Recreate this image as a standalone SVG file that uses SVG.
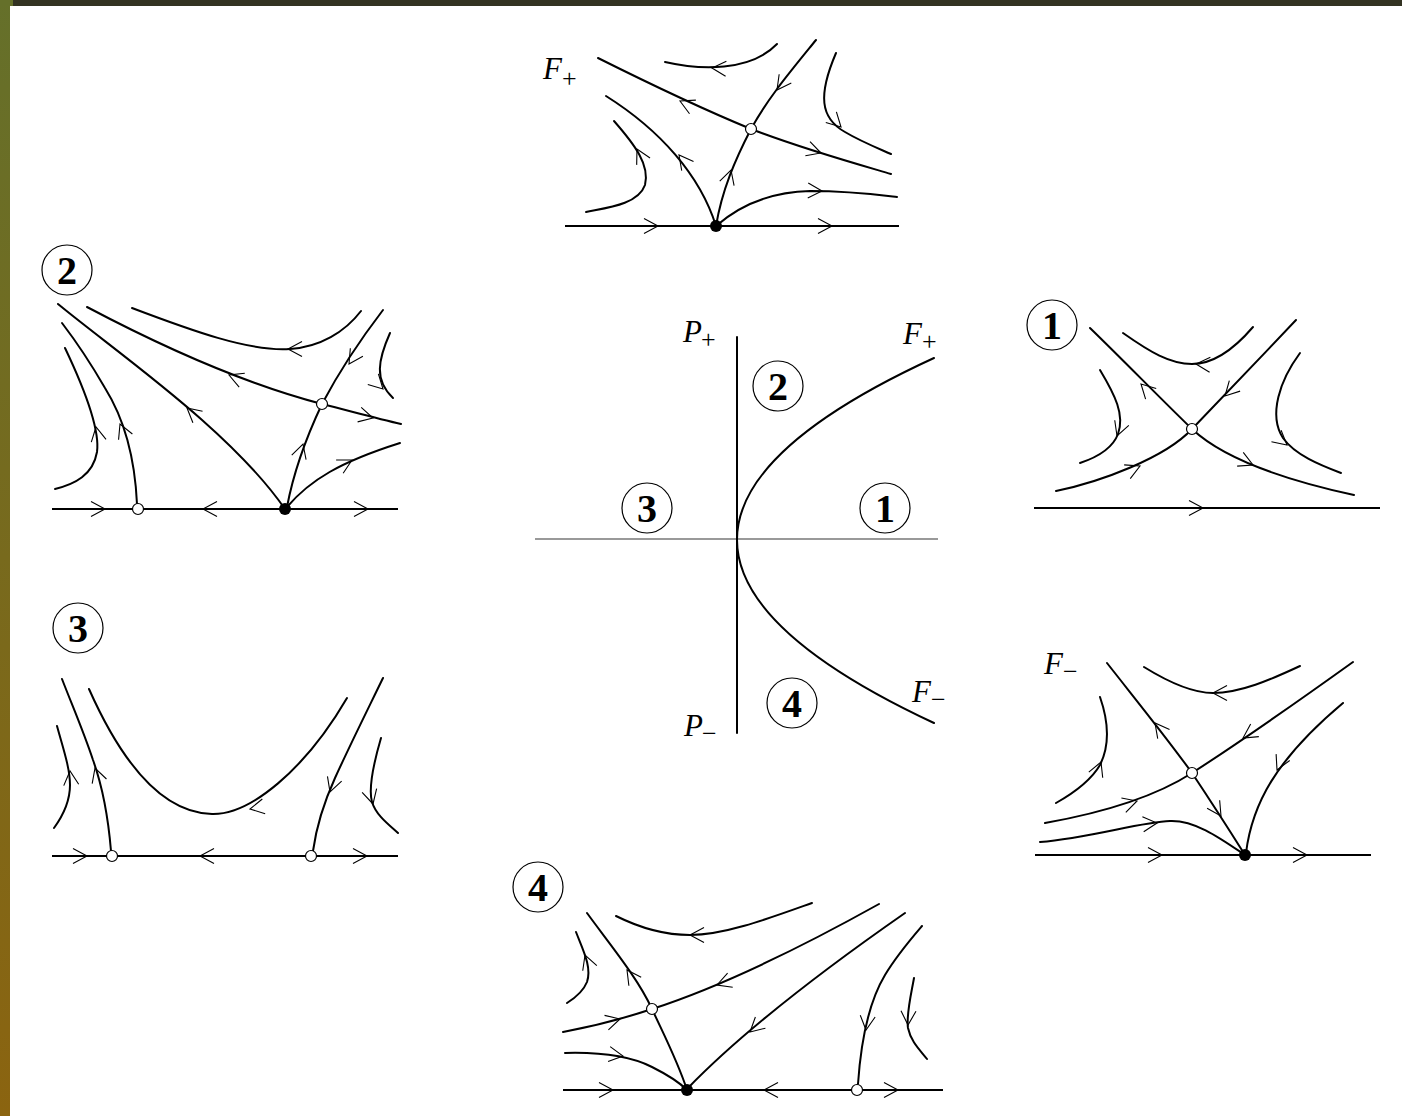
<svg xmlns="http://www.w3.org/2000/svg" xmlns:xlink="http://www.w3.org/1999/xlink" width="1402" height="1116" viewBox="0 0 1402 1116">
<style>
.c{fill:none;stroke:#000;stroke-width:2;stroke-linecap:round}
.ax{fill:none;stroke:#000;stroke-width:1.8}
.a{fill:none;stroke:#000;stroke-width:1.1}
.o{fill:#fff;stroke:#000;stroke-width:1.2}
.d{fill:#000}
.lc{fill:none;stroke:#000;stroke-width:1.2}
.n{font-family:"Liberation Serif",serif;font-weight:bold;font-size:40px;text-anchor:middle}
.m{font-family:"Liberation Serif",serif;font-style:italic;font-size:31px}
.s{font-family:"Liberation Serif",serif;font-size:26px;font-style:normal}
</style>
<defs>
<linearGradient id="lg" x1="0" y1="0" x2="0" y2="1">
<stop offset="0" stop-color="#65702a"/>
<stop offset="1" stop-color="#8b6410"/>
</linearGradient>
<path id="ar" d="M-14,-7.5 L0,0 L-14,7.5"/>
</defs>
<rect width="1402" height="1116" fill="#fff"/>
<rect x="0" y="0" width="1402" height="6" fill="#333322"/>
<rect x="0" y="0" width="10" height="1116" fill="url(#lg)"/>
<rect x="0" y="0" width="13" height="6" fill="#65702a"/>

<!-- Top panel F+ -->
<g id="panel-fplus">
<text class="m" x="543" y="79">F<tspan class="s" dx="0" dy="8">+</tspan></text>
<g class="connectors">
<path class="ax" d="M565,226 H899"/>
<path class="c" d="M598,58 C650,84 700,108 751,129 C800,148 850,162 891,174"/>
<path class="c" d="M606,96 C660,130 700,175 716,226"/>
<path class="c" d="M716,226 C722,190 735,160 751,129 C768,98 790,72 816,40"/>
<path class="c" d="M665,62 C700,70 750,72 777,44"/>
<path class="c" d="M836,53 C818,95 820,118 845,132 C860,141 875,147 891,154"/>
<path class="c" d="M614,121 C635,145 650,165 645,185 C638,205 605,208 586,212"/>
<path class="c" d="M716,226 C740,205 770,192 810,191 C850,191 880,195 897,197"/>
</g>
<g class="a">
<use xlink:href="#ar" transform="translate(658,226)"/>
<use xlink:href="#ar" transform="translate(832,226)"/>
<use xlink:href="#ar" transform="translate(680,101) rotate(205)"/>
<use xlink:href="#ar" transform="translate(821,153) rotate(18)"/>
<use xlink:href="#ar" transform="translate(679,155) rotate(232)"/>
<use xlink:href="#ar" transform="translate(731,170) rotate(-73)"/>
<use xlink:href="#ar" transform="translate(777,90) rotate(126)"/>
<use xlink:href="#ar" transform="translate(712,68) rotate(183)"/>
<use xlink:href="#ar" transform="translate(841,127) rotate(45)"/>
<use xlink:href="#ar" transform="translate(637,149) rotate(243)"/>
<use xlink:href="#ar" transform="translate(822,191) rotate(2)"/>
</g>
<g id="fp-saddle"><circle class="o" cx="751" cy="129" r="5.5"/></g>
<g id="fp-node"><circle class="d" cx="716" cy="226" r="6"/></g>
</g>

<!-- Panel 2 -->
<g id="panel-2">
<g id="p2-label"><circle class="lc" cx="67" cy="270" r="25"/><text class="n" x="67" y="283.5">2</text></g>
<g class="connectors">
<path class="ax" d="M52,509 H398"/>
<path class="c" d="M58,304 C120,355 230,430 285,509"/>
<path class="c" d="M87,307 C140,335 230,380 322,404 C350,411 375,418 401,424"/>
<path class="c" d="M132,308 C190,330 250,352 290,349 C320,347 345,332 361,311"/>
<path class="c" d="M287,507 C293,475 305,440 322,404 C340,370 360,340 383,310"/>
<path class="c" d="M287,507 C310,480 340,462 400,443"/>
<path class="c" d="M390,333 C378,360 374,380 393,398"/>
<path class="c" d="M137,504 C135,460 125,420 105,388 C90,362 75,340 62,323"/>
<path class="c" d="M65,348 C85,390 100,430 97,452 C93,475 75,484 55,489"/>
</g>
<g class="a">
<use xlink:href="#ar" transform="translate(105,509)"/>
<use xlink:href="#ar" transform="translate(203,509) rotate(180)"/>
<use xlink:href="#ar" transform="translate(368,509)"/>
<use xlink:href="#ar" transform="translate(187,408) rotate(220)"/>
<use xlink:href="#ar" transform="translate(229,375) rotate(202)"/>
<use xlink:href="#ar" transform="translate(373,418) rotate(14)"/>
<use xlink:href="#ar" transform="translate(288,349) rotate(180)"/>
<use xlink:href="#ar" transform="translate(303,444) rotate(-73)"/>
<use xlink:href="#ar" transform="translate(349,364) rotate(123)"/>
<use xlink:href="#ar" transform="translate(352,460) rotate(-28)"/>
<use xlink:href="#ar" transform="translate(383,389) rotate(45)"/>
<use xlink:href="#ar" transform="translate(120,424) rotate(247)"/>
<use xlink:href="#ar" transform="translate(96,427) rotate(259)"/>
</g>
<g id="p2-n1"><circle class="o" cx="138" cy="509" r="5.5"/></g>
<g id="p2-n2"><circle class="d" cx="285" cy="509" r="6"/></g>
<g id="p2-n3"><circle class="o" cx="322" cy="404" r="5.5"/></g>
</g>

<!-- Central panel -->
<g id="panel-center">
<g class="connectors">
<path d="M535,539 H938" fill="none" stroke="#777" stroke-width="1.3"/>
<path class="c" d="M737,337 V733"/>
<path class="c" d="M934,358 Q540,539 934,723"/>
</g>
<text class="m" x="683" y="342">P<tspan class="s" dx="-1" dy="6">+</tspan></text>
<text class="m" x="903" y="344">F<tspan class="s" dx="0" dy="6">+</tspan></text>
<text class="m" x="912" y="702">F<tspan class="s" dx="0" dy="6">−</tspan></text>
<text class="m" x="684" y="736">P<tspan class="s" dx="-1" dy="6">−</tspan></text>
<g id="c-2"><circle class="lc" cx="778" cy="386" r="25"/><text class="n" x="778" y="399.5">2</text></g>
<g id="c-3"><circle class="lc" cx="647" cy="508" r="25"/><text class="n" x="647" y="521.5">3</text></g>
<g id="c-1"><circle class="lc" cx="885" cy="508" r="25"/><text class="n" x="885" y="521.5">1</text></g>
<g id="c-4"><circle class="lc" cx="792" cy="703" r="25"/><text class="n" x="792" y="716.5">4</text></g>
</g>

<!-- Panel 1 -->
<g id="panel-1">
<g id="p1-label"><circle class="lc" cx="1052" cy="325" r="25"/><text class="n" x="1052" y="338.5">1</text></g>
<g class="connectors">
<path class="ax" d="M1034,508 H1380"/>
<path class="c" d="M1090,328 C1125,362 1160,398 1192,429 C1225,460 1285,480 1354,495"/>
<path class="c" d="M1056,491 C1100,482 1165,458 1192,429 C1220,400 1260,358 1296,320"/>
<path class="c" d="M1123,333 C1150,352 1170,364 1192,364 C1215,364 1235,348 1253,327"/>
<path class="c" d="M1100,370 C1115,395 1125,415 1118,434 C1112,450 1095,458 1080,463"/>
<path class="c" d="M1300,353 C1280,380 1268,415 1283,438 C1295,455 1320,465 1341,473"/>
</g>
<g class="a">
<use xlink:href="#ar" transform="translate(1203,508)"/>
<use xlink:href="#ar" transform="translate(1141,384) rotate(225)"/>
<use xlink:href="#ar" transform="translate(1253,465) rotate(24)"/>
<use xlink:href="#ar" transform="translate(1140,466) rotate(-24)"/>
<use xlink:href="#ar" transform="translate(1225,396) rotate(134)"/>
<use xlink:href="#ar" transform="translate(1196,364) rotate(183)"/>
<use xlink:href="#ar" transform="translate(1117,436) rotate(110)"/>
<use xlink:href="#ar" transform="translate(1287,445) rotate(40)"/>
</g>
<g id="p1-saddle"><circle class="o" cx="1192" cy="429" r="5.5"/></g>
</g>

<!-- Panel F- -->
<g id="panel-fminus">
<text class="m" x="1044" y="674">F<tspan class="s" dx="0" dy="6">−</tspan></text>
<g class="connectors">
<path class="ax" d="M1035,855 H1371"/>
<path class="c" d="M1107,663 C1140,705 1170,742 1192,773 C1210,800 1228,828 1245,855"/>
<path class="c" d="M1045,823 C1090,815 1150,800 1192,773 C1240,742 1300,700 1353,662"/>
<path class="c" d="M1144,667 C1165,680 1190,693 1213,693 C1240,693 1270,680 1300,666"/>
<path class="c" d="M1100,697 C1108,720 1110,745 1100,765 C1090,782 1072,794 1056,803"/>
<path class="c" d="M1040,842 C1090,838 1140,822 1170,821 C1195,820 1220,838 1245,855"/>
<path class="c" d="M1246,853 C1252,805 1275,760 1343,703"/>
</g>
<g class="a">
<use xlink:href="#ar" transform="translate(1162,855)"/>
<use xlink:href="#ar" transform="translate(1307,855)"/>
<use xlink:href="#ar" transform="translate(1155,723) rotate(232)"/>
<use xlink:href="#ar" transform="translate(1221,816) rotate(57)"/>
<use xlink:href="#ar" transform="translate(1137,801) rotate(-17)"/>
<use xlink:href="#ar" transform="translate(1243,738) rotate(147)"/>
<use xlink:href="#ar" transform="translate(1213,693) rotate(180)"/>
<use xlink:href="#ar" transform="translate(1101,762) rotate(-68)"/>
<use xlink:href="#ar" transform="translate(1157,823) rotate(-5)"/>
<use xlink:href="#ar" transform="translate(1277,770) rotate(115)"/>
</g>
<g id="fm-saddle"><circle class="o" cx="1192" cy="773" r="5.5"/></g>
<g id="fm-node"><circle class="d" cx="1245" cy="855" r="6"/></g>
</g>

<!-- Panel 3 -->
<g id="panel-3">
<g id="p3-label"><circle class="lc" cx="78" cy="628" r="25"/><text class="n" x="78" y="641.5">3</text></g>
<g class="connectors">
<path class="ax" d="M52,856 H398"/>
<path class="c" d="M111,851 C108,815 102,785 93,760 C83,730 72,705 62,679"/>
<path class="c" d="M57,726 C63,748 70,768 70,785 C70,803 62,817 54,828"/>
<path class="c" d="M89,689 C125,770 165,813 212,814 C250,815 305,770 347,698"/>
<path class="c" d="M313,851 C317,822 325,800 335,778 C350,745 366,713 383,678"/>
<path class="c" d="M381,738 C374,762 368,788 372,802 C376,815 388,824 398,833"/>
</g>
<g class="a">
<use xlink:href="#ar" transform="translate(87,856)"/>
<use xlink:href="#ar" transform="translate(200,856) rotate(180)"/>
<use xlink:href="#ar" transform="translate(367,856)"/>
<use xlink:href="#ar" transform="translate(95,768) rotate(252)"/>
<use xlink:href="#ar" transform="translate(70,771) rotate(265)"/>
<use xlink:href="#ar" transform="translate(250,809) rotate(169)"/>
<use xlink:href="#ar" transform="translate(330,792) rotate(109)"/>
<use xlink:href="#ar" transform="translate(373,804) rotate(75)"/>
</g>
<g id="p3-n1"><circle class="o" cx="112" cy="856" r="5.5"/></g>
<g id="p3-n2"><circle class="o" cx="311" cy="856" r="5.5"/></g>
</g>

<!-- Panel 4 -->
<g id="panel-4">
<g id="p4-label"><circle class="lc" cx="538" cy="887" r="25"/><text class="n" x="538" y="900.5">4</text></g>
<g class="connectors">
<path class="ax" d="M563,1090 H943"/>
<path class="c" d="M587,913 C608,942 638,978 652,1009 C664,1035 678,1062 687,1090"/>
<path class="c" d="M563,1032 C590,1027 622,1019 652,1009 C720,987 800,948 879,904"/>
<path class="c" d="M616,916 C640,928 665,935 690,935 C725,935 770,918 812,903"/>
<path class="c" d="M576,932 C583,950 592,967 587,982 C583,992 575,998 567,1003"/>
<path class="c" d="M565,1053 C600,1052 630,1056 652,1067 C670,1076 680,1083 687,1090"/>
<path class="c" d="M688,1088 C720,1055 780,1000 905,913"/>
<path class="c" d="M858,1084 C861,1040 870,1000 885,975 C897,955 910,940 922,926"/>
<path class="c" d="M914,978 C911,995 906,1015 908,1028 C911,1042 920,1050 927,1059"/>
</g>
<g class="a">
<use xlink:href="#ar" transform="translate(613,1090)"/>
<use xlink:href="#ar" transform="translate(764,1090) rotate(180)"/>
<use xlink:href="#ar" transform="translate(898,1090)"/>
<use xlink:href="#ar" transform="translate(627,970) rotate(235)"/>
<use xlink:href="#ar" transform="translate(620,1019) rotate(-15)"/>
<use xlink:href="#ar" transform="translate(717,985) rotate(160)"/>
<use xlink:href="#ar" transform="translate(690,935) rotate(180)"/>
<use xlink:href="#ar" transform="translate(585,955) rotate(250)"/>
<use xlink:href="#ar" transform="translate(623,1056) rotate(8)"/>
<use xlink:href="#ar" transform="translate(750,1032) rotate(138)"/>
<use xlink:href="#ar" transform="translate(866,1030) rotate(97)"/>
<use xlink:href="#ar" transform="translate(908,1025) rotate(92)"/>
</g>
<g id="p4-n1"><circle class="d" cx="687" cy="1090" r="6"/></g>
<g id="p4-n2"><circle class="o" cx="857" cy="1090" r="5.5"/></g>
<g id="p4-n3"><circle class="o" cx="652" cy="1009" r="5.5"/></g>
</g>
</svg>
